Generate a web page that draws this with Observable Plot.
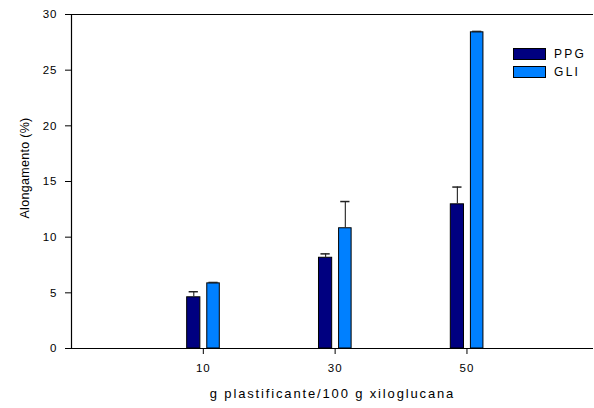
<!DOCTYPE html>
<html><head><meta charset="utf-8">
<script src="https://cdn.jsdelivr.net/npm/d3@7"></script>
<script src="https://cdn.jsdelivr.net/npm/@observablehq/plot@0.6"></script>
<style>
body{margin:0;background:#fff;font-family:"Liberation Sans",Arial,sans-serif}
#c{position:relative;width:594px;height:408px}
.leg{position:absolute;display:flex;align-items:center;font-size:12px;letter-spacing:2.3px;color:#000;line-height:12px}
.sw{width:31px;height:10px;border:1px solid #000;margin-right:8px}
</style>
</head><body><div id="c"></div>
<script>
const categories = [10, 30, 50];
const series = ["PPG", "GLI"];
const ppgValues = [4.6, 8.15, 12.95];
const ppgErrors = [0.5, 0.35, 1.55];
const gliValues = [5.85, 10.8, 28.4];
const gliErrors = [0.08, 2.4, 0.08];
const yTicks = [0, 5, 10, 15, 20, 25, 30];
const xTicks = [10, 30, 50];
const xTitle = "g plastificante/100 g xiloglucana";
const yTitle = "Alongamento (%)";
const colors = ["#000080", "#0080ff"];

// bar extents relative to category (data units)
const offsets = {PPG: [-2.45, -0.45], GLI: [0.6, 2.5]};

const rows = [];
categories.forEach((c, i) => {
  rows.push({cat: c, series: "PPG", value: ppgValues[i], err: ppgErrors[i]});
  rows.push({cat: c, series: "GLI", value: gliValues[i], err: gliErrors[i]});
});
rows.forEach(r => {
  r.x1 = r.cat + offsets[r.series][0];
  r.x2 = r.cat + offsets[r.series][1];
  r.xc = (r.x1 + r.x2) / 2;
  r.top = r.value + r.err;
});

const chart = Plot.plot({
  width: 594, height: 408,
  marginLeft: 71, marginRight: 1, marginTop: 14, marginBottom: 60,
  style: {fontFamily: '"Liberation Sans", Arial, sans-serif', fontSize: "11px", color: "#000", background: "#fff"},
  x: {domain: [-10, 69.2]},
  y: {domain: [0, 30]},
  color: {domain: series, range: colors},
  marks: [
    Plot.rectY(rows, {x1: "x1", x2: "x2", y1: 0, y2: "value", fill: "series", stroke: "#000", strokeWidth: 1}),
    Plot.ruleX(rows, {x: "xc", y1: "value", y2: "top", stroke: "#333", strokeWidth: 1.2}),
    Plot.ruleY(rows, {y: "top", x1: d => d.xc - 0.7, x2: d => d.xc + 0.7, stroke: "#222", strokeWidth: 1.5}),
    Plot.ruleY([30], {stroke: "#000", strokeWidth: 1.2}),
    Plot.ruleY([0], {stroke: "#000", strokeWidth: 1.2}),
    Plot.ruleX([-10], {stroke: "#000", strokeWidth: 1.2}),
    Plot.axisY({ticks: yTicks, tickSize: 6, tickPadding: 8, label: null, stroke: "#000", fontSize: 11.5, className: "yax"}),
    Plot.axisX({ticks: xTicks, tickSize: 6, tickPadding: 9, label: null, stroke: "#000", fontSize: 11.5, className: "xax"}),
    Plot.text([xTitle], {text: d => d, frameAnchor: "bottom", dy: 49, fontSize: 13, className: "xtitle"}),
    Plot.text([yTitle], {text: d => d, frameAnchor: "left", textAnchor: "middle", rotate: -90, dx: -47, dy: -13.5, fontSize: 12.5, className: "ytitle"})
  ]
});
const c = document.getElementById("c");
c.appendChild(chart);
chart.querySelectorAll(".yax text, .xax text").forEach(t => t.style.letterSpacing = "1px");
chart.querySelectorAll(".xtitle text").forEach(t => t.style.letterSpacing = "1.85px");
chart.querySelectorAll(".ytitle text").forEach(t => t.style.letterSpacing = "0.3px");
series.forEach((s, i) => {
  const d = document.createElement("div");
  d.className = "leg";
  d.style.left = "513px";
  d.style.top = (48 + i * 17.5) + "px";
  d.innerHTML = `<div class="sw" style="background:${colors[i]}"></div><span>${s}</span>`;
  c.appendChild(d);
});
</script>
</body></html>
